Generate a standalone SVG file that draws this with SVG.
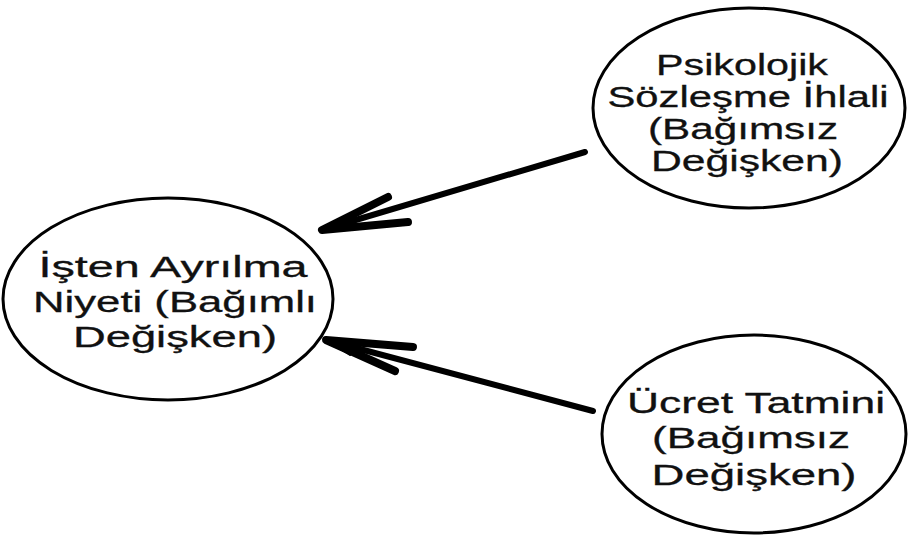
<svg xmlns="http://www.w3.org/2000/svg" width="908" height="535" viewBox="0 0 908 535">
<style>
.node ellipse{fill:#fff;stroke:#000;stroke-width:3}
.node text{font-family:"Liberation Sans",Arial,sans-serif;font-size:29px;fill:#111;text-anchor:middle;stroke:#111;stroke-width:0.3}
.conn path{fill:none;stroke:#000;stroke-width:6;stroke-linecap:round;stroke-linejoin:round}
.conn path.head{stroke-width:8}
.conn polygon{fill:#000;stroke:#000;stroke-width:2;stroke-linejoin:round}
</style>
<rect width="908" height="535" fill="#fff"/>
<g id="connectors" class="conn">
  <g id="arrow-psk">
    <path d="M585,152 L322,230"/>
    <path class="head" d="M388,197 L322,230 L408,222"/>
    <polygon points="320,231 350,214 356,227"/>
  </g>
  <g id="arrow-ucret">
    <path d="M593,411 L326,340"/>
    <path class="head" d="M413,347 L326,340 L395,371"/>
    <polygon points="324,339 356,342 350,355"/>
  </g>
</g>
<g id="node-niyet" class="node">
  <ellipse cx="168" cy="299" rx="165" ry="101"/>
  <text x="173" y="277" textLength="269" lengthAdjust="spacingAndGlyphs">İşten  Ayrılma</text>
  <text x="175" y="312" textLength="284" lengthAdjust="spacingAndGlyphs">Niyeti (Bağımlı</text>
  <text x="175" y="347" textLength="204" lengthAdjust="spacingAndGlyphs">Değişken)</text>
</g>
<g id="node-psk" class="node">
  <ellipse cx="749" cy="108" rx="156" ry="100"/>
  <text x="742" y="75" textLength="172" lengthAdjust="spacingAndGlyphs">Psikolojik</text>
  <text x="748" y="107" textLength="281" lengthAdjust="spacingAndGlyphs">Sözleşme İhlali</text>
  <text x="743" y="139" textLength="190" lengthAdjust="spacingAndGlyphs">(Bağımsız</text>
  <text x="747" y="171" textLength="192" lengthAdjust="spacingAndGlyphs">Değişken)</text>
</g>
<g id="node-ucret" class="node">
  <ellipse cx="754" cy="434" rx="152" ry="99"/>
  <text x="756" y="413" textLength="258" lengthAdjust="spacingAndGlyphs">Ücret Tatmini</text>
  <text x="751" y="448" textLength="198" lengthAdjust="spacingAndGlyphs">(Bağımsız</text>
  <text x="754" y="485" textLength="205" lengthAdjust="spacingAndGlyphs">Değişken)</text>
</g>
</svg>
